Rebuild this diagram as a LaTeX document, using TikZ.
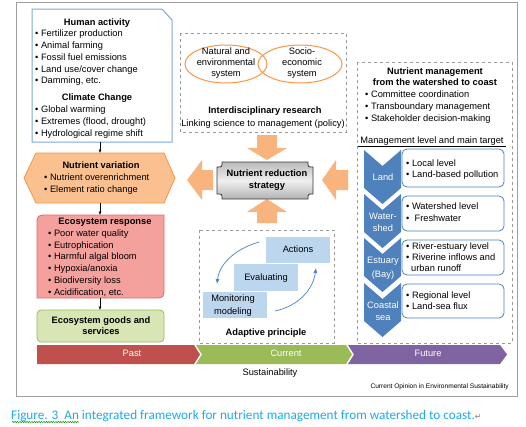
\documentclass[tikz,border=0pt]{standalone}
\usepackage{fontspec}
\setmainfont{Liberation Sans}
\newfontfamily\calib{Carlito}
\newfontfamily\djv{DejaVu Sans}
\usetikzlibrary{arrows.meta,decorations.pathmorphing}
\definecolor{hablue}{HTML}{7EA6D8}
\definecolor{nvfill}{HTML}{FAC08F}
\definecolor{nvline}{HTML}{F79646}
\definecolor{erfill}{HTML}{F4A09D}
\definecolor{erline}{HTML}{DD6B67}
\definecolor{gsfill}{HTML}{D7E6B4}
\definecolor{gsline}{HTML}{9BBB59}
\definecolor{bigarrow}{HTML}{F9B47E}
\definecolor{stepfill}{HTML}{BCD6EE}
\definecolor{chevblue}{HTML}{4F81BD}
\definecolor{pastc}{HTML}{C0504D}
\definecolor{curc}{HTML}{9BBB59}
\definecolor{futc}{HTML}{8064A2}
\definecolor{capblue}{HTML}{1FA9EC}
\definecolor{dashgray}{HTML}{9A9A9A}
\begin{document}
\begin{tikzpicture}[x=1pt,y=-1pt,
  t/.style={inner sep=0pt, text height=6.8pt, text depth=2pt, anchor=west, font=\fontsize{9.3}{11}\selectfont},
  tc/.style={t, anchor=center},
  tb/.style={tc, font=\fontsize{9.3}{11}\selectfont\bfseries},
  tw/.style={tc, text=white},
  dbox/.style={draw=dashgray, dashed, line width=0.8pt},
  barrow/.style={fill=bigarrow},
  smallarrow/.style={-{Latex[length=3.5pt,width=3pt]}, line width=0.6pt},
  curvearrow/.style={-{Latex[length=5pt,width=4pt]}, draw=chevblue, line width=0.7pt},
  chev/.style={fill=chevblue},
  lvlbox/.style={draw=chevblue, fill=white, rounded corners=5pt, line width=0.8pt},
  stepbox/.style={fill=stepfill}]
\useasboundingbox (0,0) rectangle (526,426);
\fill[white] (0,0) rectangle (526,426);
% outer frame
\draw[gray!75, line width=0.8pt] (16,2) rectangle (517,396);

% ---------------- Left column ----------------
\draw[hablue, line width=1pt, fill=white] (32,9) -- (162,9) -- (172,20) -- (172,142) -- (32,142) -- cycle;
\node[tb] (ha) at (97,23) {Human activity};
\node[t] at (35,34) {• Fertilizer production};
\node[t] at (35,46) {• Animal farming};
\node[t] at (35,58) {• Fossil fuel emissions};
\node[t] at (35,70) {• Land use/cover change};
\node[t] at (35,81) {• Damming, etc.};
\node[tb] at (97,98) {Climate Change};
\node[t] at (35,110) {• Global warming};
\node[t] at (35,122) {• Extremes (flood, drought)};
\node[t] at (35,134) {• Hydrological regime shift};

\draw[nvline, fill=nvfill, line width=0.8pt] (24,178) -- (36,153) -- (164,153) -- (175,178) -- (164,203) -- (36,203) -- cycle;
\node[tb] (nv) at (101,166) {Nutrient variation};
\node[t] at (44,178) {• Nutrient overenrichment};
\node[t] at (44,190) {• Element ratio change};

\draw[erline, fill=erfill, line width=0.8pt] (37,298) -- (37,226) .. controls (37,215) .. (48,215) -- (164,215) -- (164,287) .. controls (164,298) .. (153,298) -- cycle;
\node[tb] (er) at (105,222) {Ecosystem response};
\node[t] at (48,234) {• Poor water quality};
\node[t] at (48,246) {• Eutrophication};
\node[t] at (48,257) {• Harmful algal bloom};
\node[t] at (48,269) {• Hypoxia/anoxia};
\node[t] at (48,281) {• Biodiversity loss};
\node[t] at (48,293) {• Acidification, etc.};

\draw[gsline, fill=gsfill, line width=0.8pt, rounded corners=4pt] (37,310) rectangle (164,342);
\node[tb] (gs) at (101,321) {Ecosystem goods and};
\node[tb] at (101,332) {services};

\coordinate (a1s) at (100,142); \coordinate (a1e) at (100,153);
\coordinate (a2s) at (100,203); \coordinate (a2e) at (100,215);
\coordinate (a3s) at (100,298); \coordinate (a3e) at (100,310);
\draw[smallarrow] (a1s) -- (a1e);
\draw[smallarrow] (a2s) -- (a2e);
\draw[smallarrow] (a3s) -- (a3e);

% ---------------- Middle column ----------------
\draw[dbox] (180,33) rectangle (346,132);
\draw[nvline, line width=1pt] (226,64) ellipse [x radius=41, y radius=19];
\draw[nvline, line width=1pt] (300,64) ellipse [x radius=42, y radius=19];
\node[tc] (nat) at (226,52) {Natural and};
\node[tc] at (226,63) {environmental};
\node[tc] at (226,74) {system};
\node[tc] (soc) at (302,52) {Socio-};
\node[tc] at (302,63) {economic};
\node[tc] at (302,74) {system};
\node[tb] (ir) at (265,111) {Interdisciplinary research};
\node[tc] at (263,124) {Linking science to management (policy)};

% big arrows
\fill[barrow] (257,135) -- (277,135) -- (277,148) -- (287,148) -- (267,160) -- (247,148) -- (257,148) -- cycle;
\fill[barrow] (267,199) -- (287,212) -- (277,212) -- (277,223) -- (257,223) -- (257,212) -- (247,212) -- cycle;
\fill[barrow] (187,180) -- (202,160) -- (202,170) -- (213,170) -- (213,190) -- (202,190) -- (202,200) -- cycle;
\fill[barrow] (322,180) -- (336,160) -- (336,170) -- (348,170) -- (348,190) -- (336,190) -- (336,200) -- cycle;

% strategy plaque
\draw[draw=gray!45!black, line width=0.8pt, top color=gray!55, bottom color=gray!60, middle color=gray!12]
  (222,162) -- (308,162) .. controls (308,167) .. (313,167) -- (313,194) .. controls (308,194) .. (308,199)
  -- (222,199) .. controls (222,194) .. (217,194) -- (217,167) .. controls (222,167) .. (222,162) -- cycle;
\node[tb] (nrs) at (267,174) {Nutrient reduction};
\node[tb] at (267,186) {strategy};

% adaptive principle
\draw[dbox] (199,230) rectangle (334,343);
\fill[stepbox] (266,237) rectangle (330,263);
\fill[stepbox] (234,264) rectangle (298,291);
\fill[stepbox] (203,292) rectangle (267,318);
\node[tc] (act) at (298,250) {Actions};
\node[tc] (evl) at (266,278) {Evaluating};
\node[tc] (mon) at (233,299) {Monitoring};
\node[tc] at (233,312) {modeling};
\coordinate (c1s) at (259,242); \coordinate (c1e) at (217,284);
\coordinate (c2s) at (275,311); \coordinate (c2e) at (316,268);
\draw[curvearrow] (c1s) .. controls (232,250) and (219,266) .. (c1e);
\draw[curvearrow] (c2s) .. controls (298,306) and (313,290) .. (c2e);
\node[tb] (ap) at (266,333) {Adaptive principle};

% ---------------- Right column ----------------
\draw[dbox] (357,62) rectangle (512,343);
\node[tb] (nm) at (435,72) {Nutrient management};
\node[tb] at (435,83) {from the watershed to coast};
\node[t] at (365,95) {• Committee coordination};
\node[t] at (365,107) {• Transboundary management};
\node[t] at (365,119) {• Stakeholder decision-making};
\node[tc] (ml) at (432,141) {Management level and main target};
\draw[line width=0.5pt] (358,146.5) -- (506,146.5);

\fill[chev] (364,150) -- (382.5,166) -- (401,150) -- (401,188) -- (382.5,204) -- (364,188) -- cycle;
\fill[chev] (364,194) -- (382.5,210) -- (401,194) -- (401,232) -- (382.5,248) -- (364,232) -- cycle;
\fill[chev] (364,238) -- (382.5,254) -- (401,238) -- (401,276) -- (382.5,292) -- (364,276) -- cycle;
\fill[chev] (364,283) -- (382.5,299) -- (401,283) -- (401,321) -- (382.5,337) -- (364,321) -- cycle;
\node[tw] (land) at (383,178) {Land};
\node[tw] (ws) at (383,217) {Water-};
\node[tw] at (383,229) {shed};
\node[tw] (est) at (383,261) {Estuary};
\node[tw] at (383,275) {(Bay)};
\node[tw] (cs) at (383,306) {Coastal};
\node[tw] at (383,318) {sea};

\draw[lvlbox] (402,149) rectangle (504,187);
\draw[lvlbox] (402,196) rectangle (504,231);
\draw[lvlbox] (402,240) rectangle (504,275);
\draw[lvlbox] (402,284) rectangle (504,318);
\node[t] at (406,164) {• Local level};
\node[t] at (406,175) {• Land-based pollution};
\node[t] at (406,207) {• Watershed level};
\node[t] at (406,219) {•\ \ Freshwater};
\node[t] at (406,247) {• River-estuary level};
\node[t] at (406,258) {• Riverine inflows and};
\node[t] at (411,269) {urban runoff};
\node[t] at (406,296) {• Regional level};
\node[t] at (406,307) {• Land-sea flux};

% ---------------- Timeline ----------------
\fill[pastc] (37,345) -- (194,345) -- (200,354.5) -- (194,364) -- (37,364) -- cycle;
\fill[curc] (196,345) -- (346,345) -- (352,354.5) -- (346,364) -- (196,364) -- (202,354.5) -- cycle;
\fill[futc] (348,345) -- (500,345) -- (507,354.5) -- (500,364) -- (348,364) -- (354,354.5) -- cycle;
\node[tw] (past) at (132,354.5) {Past};
\node[tw] (cur) at (286,354.5) {Current};
\node[tw] (fut) at (428,354.5) {Future};
\node[tc] (sus) at (270,373) {Sustainability};
\node[inner sep=0pt, anchor=east, font=\fontsize{6.6}{8}\selectfont] (coes) at (509,387) {Current Opinion in Environmental Sustainability};

% ---------------- Caption ----------------
\node[inner sep=0pt, anchor=west, text=capblue, font=\calib\fontsize{13.2}{15}\selectfont] (cap) at (11,416) {Figure. 3\ \ An integrated framework for nutrient management from watershed to coast.\textcolor{gray}{\djv\fontsize{8}{9}\selectfont ↵}};
\draw[green!55!black, line width=0.5pt, decorate, decoration={snake, amplitude=0.6pt, segment length=2.4pt}] (12,422) -- (79,422);
\end{tikzpicture}
\end{document}
